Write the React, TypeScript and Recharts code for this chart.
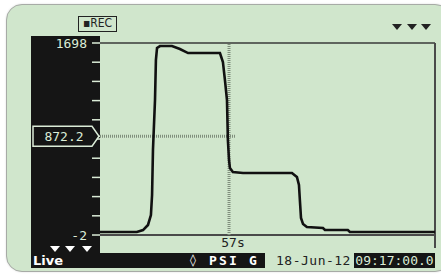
import { LineChart, Line, XAxis, YAxis, ReferenceLine } from 'recharts'

// recorded trace, seconds vs PSI G
const times = [
  0, 16.3, 19, 21.2, 22.5, 23, 23.4, 24.3, 24.7, 25.2, 26.5, 31.8, 35.3, 38.9,
  53, 54.3, 55.2, 56.1, 56.5, 57, 57.4, 58.7, 63.2, 84.8, 87, 87.9, 88.3, 88.8,
  89.7, 91.4, 98.5, 99.4, 109.5, 110.4, 148,
]
const pressures = [
  25, 25, 42, 87, 175, 352, 751, 1193, 1547, 1654, 1671, 1671, 1645, 1609,
  1609, 1530, 1370, 1193, 839, 662, 591, 556, 547, 547, 512, 441, 308, 149,
  95, 69, 60, 42, 42, 25, 25,
]
const yTicks = [-2, 168, 338, 508, 678, 848, 1018, 1188, 1358, 1528, 1698]
const yLabels = [-2, 1698]
const cursorTime = 57
const cursorValue = 872.2
const dateLabel = '18-Jun-12'
const timeLabel = '09:17:00.0'

const data = times.map((t, i) => ({ t, v: pressures[i] }))

const GREEN = '#d0e6cc'
const INK = '#151515'
const LIGHT = '#dbecd7'
const CURSOR = '#7f8e7c'
const MONO = '"DejaVu Sans Mono", monospace'

function YTick(props: any) {
  const { x, y, payload } = props
  const v = payload.value
  if (v === cursorValue) {
    return (
      <g>
        <path
          d={`M33,${y - 10} H92 L99,${y} L92,${y + 10} H33 Z`}
          fill={INK}
          stroke={LIGHT}
          strokeWidth={1.5}
        />
        <text x={64} y={y} textAnchor="middle" dominantBaseline="central" fill={LIGHT} fontSize={13} fontFamily={MONO}>
          {v}
        </text>
      </g>
    )
  }
  if (yLabels.includes(v)) {
    return (
      <text x={x} y={y} textAnchor="end" dominantBaseline="central" fill={LIGHT} fontSize={13} fontFamily={MONO}>
        {v}
      </text>
    )
  }
  return <g />
}

function Tri({ cx, top, color }: { cx: number; top: number; color: string }) {
  return <polygon points={`${cx - 5},${top} ${cx + 5},${top} ${cx},${top + 6}`} fill={color} />
}

export default function App() {
  return (
    <div style={{ position: 'fixed', left: 0, top: 0, width: 441, height: 275, background: '#fff', overflow: 'hidden' }}>
      <div
        style={{
          position: 'absolute', left: 6, top: 4, width: 445, height: 268, boxSizing: 'border-box',
          borderRadius: 16, border: '1.5px solid #a7aba6', background: GREEN,
          boxShadow: '0 0 2px rgba(0,0,0,0.15)',
        }}
      />
      <div style={{ position: 'absolute', left: 31, top: 36, width: 69, height: 232, background: INK }} />
      <div style={{ position: 'absolute', left: 31, top: 253, width: 234, height: 15, background: INK }} />
      <div style={{ position: 'absolute', left: 354, top: 253, width: 81, height: 15, background: INK }} />

      <div style={{ position: 'absolute', left: 0, top: 0 }}>
        <LineChart width={441} height={275} data={data} margin={{ top: 43, right: 6, bottom: 27, left: 31 }}>
          <XAxis dataKey="t" type="number" domain={[0, 148]} hide allowDataOverflow />
          <YAxis
            type="number"
            domain={[-117, 1698]}
            allowDataOverflow
            ticks={[...yTicks, cursorValue]}
            interval={0}
            width={69}
            axisLine={false}
            tickLine={{ stroke: LIGHT, strokeWidth: 1.5 }}
            tickSize={8}
            tickMargin={5}
            tick={<YTick />}
          />
          <ReferenceLine y={1698} stroke="#3a3a3a" strokeWidth={1.5} />
          <ReferenceLine y={-2} stroke="#4a4a4a" strokeWidth={2} />
          <ReferenceLine x={148} stroke="#4a4a4a" strokeWidth={2} />
          <ReferenceLine
            segment={[{ x: 0, y: cursorValue }, { x: 60, y: cursorValue }]}
            stroke={CURSOR}
            strokeWidth={3}
            strokeDasharray="1 1"
          />
          <ReferenceLine
            segment={[{ x: cursorTime, y: -2 }, { x: cursorTime, y: 1698 }]}
            stroke={CURSOR}
            strokeWidth={3}
            strokeDasharray="1 1"
            label={{ value: `${cursorTime}s`, position: 'bottom', offset: 3, dx: 4, fill: '#222', fontSize: 13, fontFamily: MONO }}
          />
          <Line
            type="linear"
            dataKey="v"
            stroke="#111"
            strokeWidth={2.6}
            dot={false}
            isAnimationActive={false}
          />
        </LineChart>
      </div>

      <div
        style={{
          position: 'absolute', left: 78, top: 16, width: 39, height: 16, boxSizing: 'border-box',
          border: '1.5px solid #222', color: '#222', fontFamily: '"DejaVu Sans Condensed", "DejaVu Sans", sans-serif',
          fontSize: 12, lineHeight: '13px', textAlign: 'center',
        }}
      >
        ▪REC
      </div>

      <svg style={{ position: 'absolute', left: 0, top: 0 }} width={441} height={275}>
        <Tri cx={397} top={24} color="#222" />
        <Tri cx={412} top={24} color="#222" />
        <Tri cx={426} top={24} color="#222" />
        <Tri cx={55} top={246} color="#fff" />
        <Tri cx={70} top={246} color="#fff" />
        <Tri cx={87} top={246} color="#fff" />
      </svg>

      <div style={{ position: 'absolute', left: 33, top: 253, height: 15, lineHeight: '15px', color: '#fff', fontFamily: '"DejaVu Sans", sans-serif', fontWeight: 700, fontSize: 13 }}>
        Live
      </div>
      <div style={{ position: 'absolute', left: 190, top: 253, height: 15, lineHeight: '15px', color: '#fff', fontFamily: '"DejaVu Sans", sans-serif', fontWeight: 700, fontSize: 12 }}>
        ◊
      </div>
      <div style={{ position: 'absolute', left: 209, top: 253, height: 15, lineHeight: '15px', color: '#fff', fontFamily: MONO, fontWeight: 700, fontSize: 13, letterSpacing: 2.2 }}>
        PSI G
      </div>
      <div style={{ position: 'absolute', left: 276, top: 253, height: 15, lineHeight: '15px', color: '#222', fontFamily: MONO, fontSize: 13, letterSpacing: 0.5 }}>
        {dateLabel}
      </div>
      <div style={{ position: 'absolute', left: 354, top: 253, width: 81, height: 15, lineHeight: '15px', color: LIGHT, fontFamily: MONO, fontSize: 13, textAlign: 'center' }}>
        {timeLabel}
      </div>
    </div>
  )
}
